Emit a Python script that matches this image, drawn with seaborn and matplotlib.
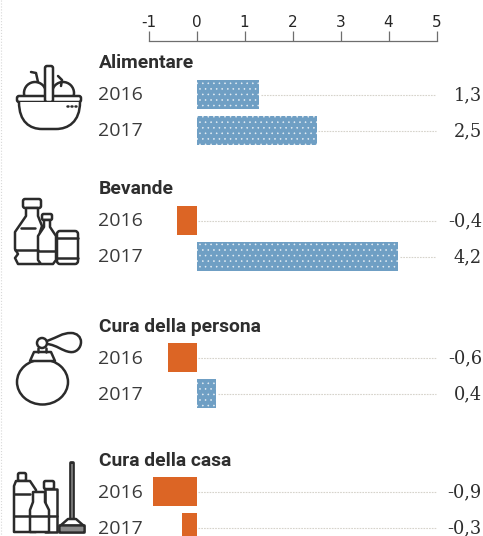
import numpy as np
import pandas as pd
import matplotlib
matplotlib.use('Agg')
import matplotlib.pyplot as plt
import seaborn as sns
from matplotlib.patches import Circle, Ellipse, FancyBboxPatch, PathPatch, Polygon
from matplotlib.path import Path

categorie = ['Alimentare', 'Bevande', 'Cura della persona', 'Cura della casa']
anni = ['2016', '2017']
valori_2016 = [1.3, -0.4, -0.6, -0.9]
valori_2017 = [2.5, 4.2, 0.4, -0.3]
tick_valori = [-1, 0, 1, 2, 3, 4, 5]

# layout in pixel del riferimento
W, H = 483, 536
ZERO_X, UNITA = 196.5, 48.0
Y_2016 = [94.5, 220.5, 357.5, 491.5]
PASSO = 36
BLU, ARANCIO, INK = '#6F9FC4', '#DC6525', '#2E2E2E'
SANS = 'Open Sans'
SERIF = 'DejaVu Serif'

sns.set_theme(style='white')
plt.rcParams['hatch.linewidth'] = 0.4

righe = []
for i, cat in enumerate(categorie):
    righe.append({'cat': cat, 'anno': anni[0], 'valore': valori_2016[i], 'y': Y_2016[i]})
    righe.append({'cat': cat, 'anno': anni[1], 'valore': valori_2017[i], 'y': Y_2016[i] + PASSO})
df = pd.DataFrame(righe)
df['segno'] = np.where(df['valore'] >= 0, 'pos', 'neg')

fig = plt.figure(figsize=(W / 100, H / 100), dpi=100, facecolor='white')
ax = fig.add_axes([0, 0, 1, 1])
ax.patch.set_alpha(0)

# linee puntinate verso i valori, sotto le barre
ax.hlines(df['y'], df['valore'].clip(lower=0) + 0.04, 4.98, color='#D6D3CB',
          lw=0.8, ls=(0, (1.5, 1)), zorder=1)

sns.barplot(data=df, x='valore', y='y', hue='segno', orient='h', native_scale=True,
            palette={'pos': BLU, 'neg': ARANCIO}, dodge=False, legend=False, saturation=1,
            width=29 / PASSO, ax=ax, zorder=2)
for p in ax.patches:
    p.set_linewidth(0)
    if p.get_width() > 0:
        p.set_hatch('...')
        p.set_edgecolor('#E6EEF4')

ax.set_xlim(-ZERO_X / UNITA, (W - ZERO_X) / UNITA)
ax.set_ylim(H, 0)
ax.set_xlabel('')
ax.set_ylabel('')
ax.set_yticks([])
ax.set_xticks(tick_valori)
ax.set_xticklabels([str(t) for t in tick_valori], family='Liberation Serif', fontsize=11.5, color=INK)
ax.tick_params(axis='x', which='both', bottom=False, labelbottom=False, top=True, labeltop=True,
               length=7, width=0.9, color='#6E6E6E', pad=1, direction='out')
for lato in ['left', 'right', 'bottom']:
    ax.spines[lato].set_visible(False)
ax.spines['top'].set_visible(True)
ax.spines['top'].set_position(('data', 41))
ax.spines['top'].set_bounds(-1, 5)
ax.spines['top'].set_color('#6E6E6E')
ax.spines['top'].set_linewidth(0.9)

# testi e icone in pixel
ov = fig.add_axes([0, 0, 1, 1], zorder=3)
ov.set_xlim(0, W)
ov.set_ylim(H, 0)
ov.axis('off')
ov.patch.set_alpha(0)

ov.plot([0.5, 0.5], [0, H], color='#D8D8D8', lw=0.8, ls=':')

for i, cat in enumerate(categorie):
    y0 = Y_2016[i]
    ov.text(99, y0 - 31, cat, family='Roboto', fontweight='bold', fontsize=13.9,
            color=INK, va='center', ha='left')
    ov.text(98, y0 + 1, anni[0], family=SANS, fontsize=14, color='#3A3A3A', va='center')
    ov.text(98, y0 + PASSO + 1, anni[1], family=SANS, fontsize=14, color='#3A3A3A', va='center')
    for dy, v in zip([0, PASSO], [valori_2016[i], valori_2017[i]]):
        ov.text(482, y0 + dy + 1, f'{v:.1f}'.replace('.', ','), family=SERIF, fontsize=12.8,
                color=INK, va='center', ha='right')

LW = 1.8
SCURO = '#2B2B2B'
stile = dict(fc='white', ec=SCURO, lw=LW, joinstyle='round', capstyle='round')


def arrot(x, y, w, h, r=2):
    ov.add_patch(FancyBboxPatch((x + r, y + r), w - 2 * r, h - 2 * r,
                                boxstyle=f'round,pad={r}', **stile))


def linea(xs, ys):
    ov.plot(xs, ys, color=SCURO, lw=LW, solid_capstyle='round', solid_joinstyle='round')


def bottiglia(pts, chiusa=True):
    ov.add_patch(Polygon(pts, closed=chiusa, **stile))


def cesto():
    for cx in [35, 63]:
        ov.add_patch(Ellipse((cx, 93), 22, 22, **stile))
    linea([31, 36, 38], [72, 73, 82])
    linea([58, 62, 61], [76, 80, 86])
    ov.add_patch(FancyBboxPatch((19, 98), 60, 2, boxstyle='round,pad=2', **stile))
    ov.add_patch(FancyBboxPatch((47, 68), 4, 32, boxstyle='round,pad=2', **stile))
    verts = [(19, 102), (19, 122), (30, 129), (42, 129), (56, 129), (68, 129), (80, 122), (80, 102)]
    codes = [Path.MOVETO, Path.CURVE4, Path.CURVE4, Path.CURVE4, Path.LINETO, Path.CURVE4, Path.CURVE4, Path.CURVE4]
    ov.add_patch(PathPatch(Path(verts, codes), **stile))
    linea([67, 68], [106, 106])
    linea([71, 72], [106, 106])
    linea([75, 76], [106, 106])


def bevande():
    arrot(23, 199, 18, 9)
    bottiglia([(26, 208), (26, 216), (15, 232), (15, 249), (18, 254), (15, 258), (18, 264), (40, 264),
               (40, 232), (42, 226), (38, 216), (38, 208)])
    linea([15, 38], [250, 250])
    linea([21, 35], [228, 228])
    arrot(42, 214, 10, 6, r=1.5)
    bottiglia([(44, 220), (44, 227), (38, 236), (38, 260), (41, 264), (53, 264), (56, 260), (56, 236), (50, 227), (50, 220)])
    linea([38, 56], [251, 251])
    arrot(57, 231, 21, 33, r=3)
    linea([57, 78], [238, 238])
    linea([57, 78], [258, 258])


def profumo():
    ov.add_patch(Ellipse((42.5, 382), 51, 45, **stile))
    bottiglia([(30, 361), (34, 352), (51, 352), (55, 361)])
    ov.add_patch(Circle((42, 343), 5, **stile))
    verts = [(47, 341), (58, 337), (62, 333), (71, 333), (77, 333), (81, 337), (81, 342),
             (81, 348), (76, 353), (70, 352), (62, 351), (57, 345), (47, 344)]
    codes = [Path.MOVETO] + [Path.CURVE4] * 12
    ov.add_patch(PathPatch(Path(verts, codes), fc='none', ec=SCURO, lw=LW))
    linea([38, 38], [348, 352])
    linea([46, 46], [348, 352])


def casa():
    arrot(18, 473, 8, 8, r=1.5)
    bottiglia([(16, 481), (14, 486), (14, 532), (36, 532), (36, 490), (30, 481)])
    linea([14, 30], [494, 494])
    linea([14, 30], [516, 516])
    arrot(44, 481, 10, 8, r=1.5)
    bottiglia([(45, 489), (45, 532), (57, 532), (57, 489)])
    linea([49, 57], [516, 516])
    bottiglia([(33, 492), (33, 502), (30, 510), (30, 532), (49, 532), (49, 510), (45, 502), (45, 492)])
    linea([30, 49], [516, 516])
    ov.add_patch(FancyBboxPatch((71, 463), 2, 56, boxstyle='round,pad=0.6', **stile))
    bottiglia([(68, 519), (76, 519), (84, 526), (60, 526)])
    ov.add_patch(FancyBboxPatch((60, 526), 24, 6, boxstyle='round,pad=0.6', fc='#8A8A8A', ec=SCURO, lw=LW))


cesto()
bevande()
profumo()
casa()

fig.savefig('out.png', dpi=100, facecolor='white')
